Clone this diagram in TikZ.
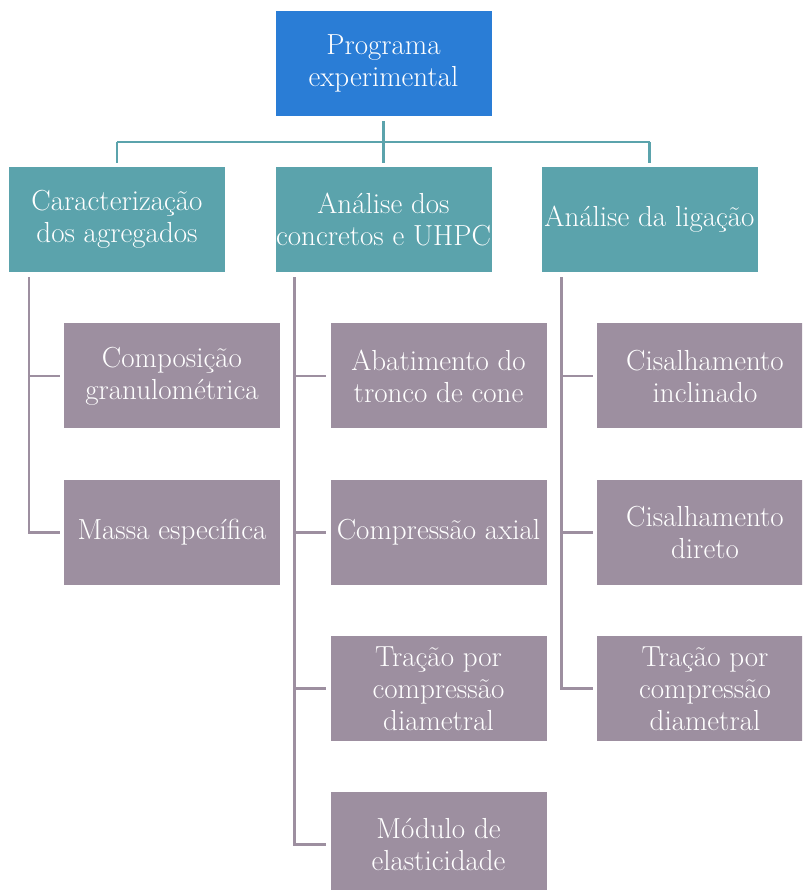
\documentclass[tikz,border=0pt]{standalone}
\usepackage{fontspec}
\definecolor{topblue}{RGB}{42,125,214}
\definecolor{teal2}{RGB}{91,163,172}
\definecolor{mauve}{RGB}{157,143,160}
\begin{document}
\begin{tikzpicture}[x=1pt,y=1pt,
  box/.style={minimum width=216pt,minimum height=105pt,inner sep=0pt,align=center,text=white,
    font=\fontsize{29}{32}\selectfont},
  topbox/.style={box,fill=topblue},
  midbox/.style={box,fill=teal2},
  leafbox/.style={box,fill=mauve},
  tline/.style={draw=teal2,line width=2.5pt},
  mline/.style={draw=mauve,line width=2.5pt}]
\useasboundingbox (0,0) rectangle (802,890);
\begin{scope}
\clip (0,0) rectangle (802,890);
\node[topbox] (top) at (383.5,826.5) {Programa\\experimental};
\node[midbox] (a) at (117,670.5) {Caracterização\\dos agregados};
\node[midbox] (b) at (383.5,670.5) {Análise dos\\concretos e UHPC};
\node[midbox] (c) at (649.5,670.5) {Análise da ligação};
\node[leafbox] (a1) at (172,514) {Composição\\granulométrica};
\node[leafbox] (a2) at (172,357.5) {Massa específica};
\node[leafbox] (b1) at (438.5,514) {Abatimento do\\tronco de cone};
\node[leafbox] (b2) at (438.5,357.5) {Compressão axial};
\node[leafbox] (b3) at (438.5,201.5) {Tração por\\compressão\\diametral};
\node[leafbox] (b4) at (438.5,45.5) {Módulo de\\elasticidade};
\node[leafbox] (c1) at (705,514) {Cisalhamento\\inclinado};
\node[leafbox] (c2) at (705,357.5) {Cisalhamento\\direto};
\node[leafbox] (c3) at (705,201.5) {Tração por\\compressão\\diametral};
\end{scope}
\draw[tline] ([yshift=-5pt]top.south) -- ([yshift=4pt]b.north);
\draw[tline] ([yshift=25pt]a.north) -- ([yshift=25pt]c.north);
\draw[tline] ([yshift=25pt]a.north) -- ([yshift=4pt]a.north);
\draw[tline] ([yshift=25pt]c.north) -- ([yshift=4pt]c.north);
\draw[mline] ([xshift=20pt,yshift=-5pt]a.south west) |- ([xshift=-4pt]a1.west);
\draw[mline] ([xshift=20pt,yshift=-5pt]a.south west) |- ([xshift=-4pt]a2.west);
\draw[mline] ([xshift=19pt,yshift=-5pt]b.south west) |- ([xshift=-4pt]b1.west);
\draw[mline] ([xshift=19pt,yshift=-5pt]b.south west) |- ([xshift=-4pt]b2.west);
\draw[mline] ([xshift=19pt,yshift=-5pt]b.south west) |- ([xshift=-4pt]b3.west);
\draw[mline] ([xshift=19pt,yshift=-5pt]b.south west) |- ([xshift=-4pt]b4.west);
\draw[mline] ([xshift=20pt,yshift=-5pt]c.south west) |- ([xshift=-4pt]c1.west);
\draw[mline] ([xshift=20pt,yshift=-5pt]c.south west) |- ([xshift=-4pt]c2.west);
\draw[mline] ([xshift=20pt,yshift=-5pt]c.south west) |- ([xshift=-4pt]c3.west);
\end{tikzpicture}
\end{document}
